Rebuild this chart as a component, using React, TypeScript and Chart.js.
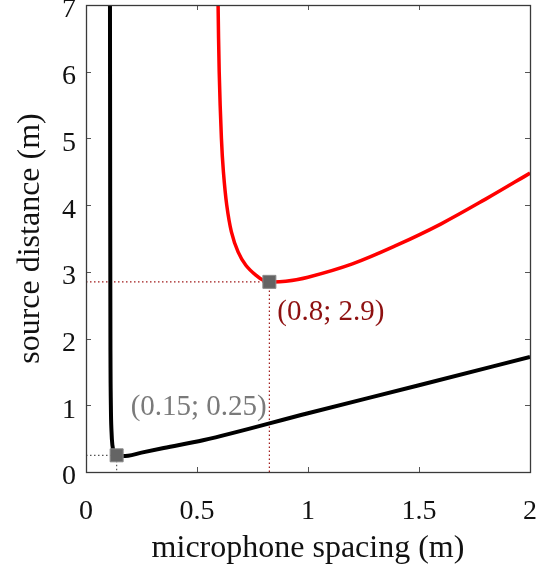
import React, { useEffect, useRef } from "react";
import { Chart, registerables } from "chart.js";

Chart.register(...registerables);

// Axis ticks
const xTicks = [0, 0.5, 1, 1.5, 2];
const yTicks = [0, 1, 2, 3, 4, 5, 6, 7];

// Red curve
const redX = [0.595, 0.6, 0.61, 0.619, 0.634, 0.655, 0.685, 0.72, 0.765, 0.8, 0.826, 0.9, 1.0, 1.2, 1.4, 1.6, 1.8, 2.0];
const redY = [7.0, 6.0, 5.0, 4.5, 4.0, 3.6, 3.3, 3.1, 2.95, 2.87, 2.85, 2.86, 2.92, 3.12, 3.4, 3.72, 4.09, 4.48];

// Black curve
const blackX = [0.108, 0.109, 0.11, 0.112, 0.115, 0.119, 0.126, 0.138, 0.16, 0.19, 0.25, 0.35, 0.527, 1.0, 1.5, 2.0];
const blackY = [7.0, 4.0, 2.0, 1.0, 0.6, 0.4, 0.3, 0.25, 0.24, 0.245, 0.29, 0.36, 0.475, 0.88, 1.3, 1.725];

// Marked optimum points
const optX = [0.826, 0.138];
const optY = [2.85, 0.25];
const optLabels = ["(0.8; 2.9)", "(0.15; 0.25)"];

const FONT = "'Liberation Serif', 'DejaVu Serif', serif";
const FS = 28;
const FT = 32;
const RED_TXT = "#8e1111";
const GREY_TXT = "#7a7a7a";

const toPts = (xs: number[], ys: number[]) => xs.map((x, i) => ({ x, y: ys[i] }));

const frame = {
  id: "frame",
  afterDatasetsDraw(chart: any) {
    const { ctx, chartArea: a, scales } = chart;
    const xs = scales.x, ys = scales.y;
    ctx.save();
    // annotations
    ctx.font = `29px ${FONT}`;
    ctx.textBaseline = "middle";
    ctx.textAlign = "left";
    const offs = [
      [8, 31],
      [14, -48],
    ];
    const cols = [RED_TXT, GREY_TXT];
    optLabels.forEach((t, i) => {
      const px = xs.getPixelForValue(optX[i]);
      const py = ys.getPixelForValue(optY[i]);
      ctx.fillStyle = cols[i];
      ctx.fillText(t, px + offs[i][0], py + offs[i][1]);
    });
    // ticks
    ctx.strokeStyle = "#555";
    ctx.lineWidth = 1;
    const L = 5;
    xTicks.forEach((v) => {
      const p = Math.round(xs.getPixelForValue(v)) + 0.5;
      ctx.beginPath();
      ctx.moveTo(p, a.bottom);
      ctx.lineTo(p, a.bottom - L);
      ctx.moveTo(p, a.top);
      ctx.lineTo(p, a.top + L);
      ctx.stroke();
    });
    yTicks.forEach((v) => {
      const p = Math.round(ys.getPixelForValue(v)) + 0.5;
      ctx.beginPath();
      ctx.moveTo(a.left, p);
      ctx.lineTo(a.left + L, p);
      ctx.moveTo(a.right, p);
      ctx.lineTo(a.right - L, p);
      ctx.stroke();
    });
    // box
    ctx.strokeStyle = "#3a3a3a";
    ctx.lineWidth = 1.3;
    ctx.strokeRect(Math.round(a.left) + 0.5, Math.round(a.top) + 0.5, Math.round(a.right - a.left), Math.round(a.bottom - a.top));
    ctx.restore();
  },
};

const zeroPad = (s: any) => {
  s.paddingLeft = 0;
  s.paddingRight = 0;
  s.paddingTop = 0;
  s.paddingBottom = 0;
};

export default function App() {
  const ref = useRef<HTMLCanvasElement | null>(null);
  useEffect(() => {
    document.body.style.margin = "0";
    const canvas = ref.current!;
    const dot = (ox: number, oy: number) => [
      { x: 0, y: oy },
      { x: ox, y: oy },
      { x: ox, y: 0 },
    ];
    const chart = new Chart(canvas, {
      type: "scatter",
      data: {
        datasets: [
          {
            data: toPts(optX, optY),
            showLine: false,
            pointStyle: "rect",
            pointRadius: 9.2,
            backgroundColor: "#646464",
            borderColor: "#8a8a8a",
            borderWidth: 1,
          },
          {
            data: toPts(blackX, blackY),
            showLine: true,
            borderColor: "#000000",
            borderWidth: 4,
            pointRadius: 0,
            cubicInterpolationMode: "monotone",
          },
          {
            data: toPts(redX, redY),
            showLine: true,
            borderColor: "#ff0000",
            borderWidth: 3.5,
            pointRadius: 0,
            tension: 0.35,
          },
          {
            data: dot(optX[0], optY[0]),
            showLine: true,
            borderColor: "#a01818",
            borderWidth: 1.2,
            borderDash: [1.5, 2.5],
            pointRadius: 0,
          },
          {
            data: dot(optX[1], optY[1]),
            showLine: true,
            borderColor: "#555555",
            borderWidth: 1.2,
            borderDash: [1.5, 2.5],
            pointRadius: 0,
          },
        ],
      },
      options: {
        animation: false,
        responsive: false,
        events: [],
        layout: { autoPadding: false, padding: { top: 5, right: 6, left: 0, bottom: 0 } },
        plugins: { legend: { display: false }, tooltip: { enabled: false } },
        scales: {
          x: {
            type: "linear",
            min: 0,
            max: 2,
            afterBuildTicks: (s: any) => {
              s.ticks = xTicks.map((v) => ({ value: v }));
            },
            afterFit: (s: any) => {
              s.height = 98;
              zeroPad(s);
            },
            grid: { display: false, drawTicks: false },
            border: { display: false },
            ticks: {
              padding: 23,
              maxRotation: 0,
              autoSkip: false,
              color: "#111",
              font: { family: FONT, size: FS },
              callback: (v: any) => String(v),
            },
            title: {
              display: true,
              text: "microphone spacing (m)",
              color: "#111",
              font: { family: FONT, size: FT },
              padding: { top: 0, bottom: 2 },
            },
          },
          y: {
            type: "linear",
            min: 0,
            max: 7,
            afterBuildTicks: (s: any) => {
              s.ticks = yTicks.map((v) => ({ value: v }));
            },
            afterFit: (s: any) => {
              s.width = 86;
              zeroPad(s);
            },
            grid: { display: false, drawTicks: false },
            border: { display: false },
            ticks: {
              padding: 10,
              labelOffset: 5,
              autoSkip: false,
              color: "#111",
              font: { family: FONT, size: FS },
              callback: (v: any) => String(v),
            },
            title: {
              display: true,
              text: "source distance (m)",
              color: "#111",
              font: { family: FONT, size: FT },
              padding: { top: 11, bottom: 0 },
            },
          },
        },
      },
      plugins: [frame],
    });
    return () => chart.destroy();
  }, []);
  return (
    <div style={{ width: 536, height: 570 }}>
      <canvas ref={ref} width={536} height={570} style={{ display: "block" }} />
    </div>
  );
}
